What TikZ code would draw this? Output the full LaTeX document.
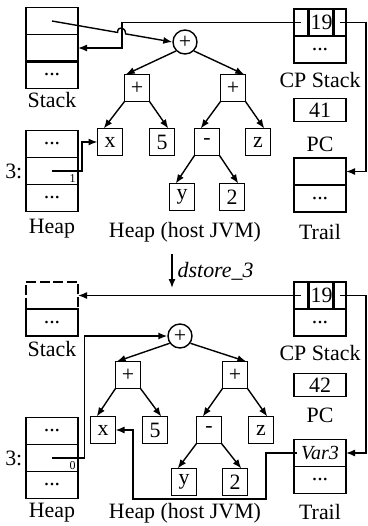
\documentclass[tikz,border=0pt,11pt]{standalone}
\usepackage{fontspec}
\setmainfont{Liberation Serif}
\usetikzlibrary{arrows.meta,positioning,calc}

\begin{document}
\begin{tikzpicture}[x=0.5pt,y=-0.5pt,line width=0.7pt,
    every node/.style={inner sep=1pt},
    cell/.style={draw,minimum width=26pt,minimum height=13.5pt,outer sep=0pt},
    pcbox/.style={cell,minimum height=11.5pt},
    tnode/.style={draw,minimum width=12.5pt,minimum height=13.5pt,outer sep=0pt},
    opnode/.style={draw,circle,minimum size=12pt,inner sep=0pt},
    hlcell/.style={cell,line width=1.3pt,dash pattern=on 5pt off 1.7pt},
    hlline/.style={line width=1.3pt,dash pattern=on 6pt off 1.5pt on 38pt off 1.5pt on 6pt off 1pt},
    ptr/.style={-{Latex[length=4.5pt,width=3.5pt]}},
    lbl/.style={inner sep=0pt},
    idx/.style={font=\tiny,inner sep=0.8pt,anchor=south east}]
  \useasboundingbox (0,0) rectangle (368,526);

  % ---- before dstore_3
  \node[cell] (stka1) at (52,21) {};
  \node[cell,below=0pt of stka1] (stka2) {};
  \node[cell,below=0pt of stka2] (stka3) {...};
  \draw[hlline] (stka2.north west) -- (stka2.south west) -- (stka2.south east) -- (stka2.north east);
  \node[lbl] (stklbla) at (52,100) {Stack};

  \node[cell] (hpa1) at (52,144) {...};
  \node[cell,below=0pt of hpa1] (hpa2) {};
  \node[cell,below=0pt of hpa2] (hpa3) {...};
  \node[lbl,left=1.5pt of hpa2] (hpidxa) {3:};
  \node[idx] (hpbita) at (hpa2.south east) {1};
  \node[lbl] (hplbla) at (52,229) {Heap};

  \node[opnode] (rta) at (185,42) {+};
  \node[tnode] (pla) at (137,88) {+};
  \node[tnode] (pra) at (233,88) {+};
  \node[tnode] (xa) at (110,142) {x};
  \node[tnode] (fva) at (162,142) {5};
  \node[tnode] (mia) at (207,142) {-};
  \node[tnode] (za) at (258,142) {z};
  \node[tnode] (ya) at (182,197) {y};
  \node[tnode] (twa) at (232,197) {2};
  \node[lbl] (jvmlbla) at (185,232) {Heap (host JVM)};

  \draw[ptr] (rta.225) -- (pla.130);
  \draw[ptr] (rta.-45) -- (pra.50);
  \draw[ptr] (pla.south west) -- (xa.115);
  \draw[ptr] (pla.south east) -- (fva.65);
  \draw[ptr] (pra.south west) -- (mia.115);
  \draw[ptr] (pra.south east) -- (za.65);
  \draw[ptr] (mia.south west) -- (ya.115);
  \draw[ptr] (mia.south east) -- (twa.65);

  \node[tnode,minimum width=7pt] (cpla) at (301,22.5) {};
  \node[tnode,minimum width=12.5pt,inner sep=0pt] (cpma) at (321.5,22.5) {19};
  \node[tnode,minimum width=6.5pt] (cpra) at (339.5,22.5) {};
  \node[cell] (cpa2) at (320,49.5) {...};
  \node[lbl] (cplbla) at (320,80) {CP Stack};
  \node[pcbox] (pca) at (320,110) {41};
  \node[lbl] (pclbla) at (320,144) {PC};
  \node[cell] (tra1) at (320,171.5) {};
  \node[cell,below=0pt of tra1] (tra2) {...};
  \node[lbl] (trlbla) at (320,232) {Trail};

  \coordinate (rgt) at (366,0);
  \coordinate (jta) at ($(stka2.east)+(44,0)$);
  \coordinate (hopa) at ($(stka1.center)!0.545!(rta.west)$);
  \coordinate (hopb) at ($(stka1.center)!0.612!(rta.west)$);
  \coordinate (jha) at ($(xa.west)+(-15.5,0)$);
  \draw[ptr] (cpla.center) -| (jta) -- (stka2.east);
  \draw[ptr] (stka1.center) -- (hopa) .. controls +(0,-7) and +(0,-7) .. (hopb) -- (rta.west);
  \draw[ptr] (cpra.center) -- (cpra.center -| rgt) |- (tra1.east);
  \draw[ptr] (hpa2.center) -| (jha) -- (xa.west);

  % ---- the instruction
  \coordinate (dsa) at (172,254);
  \coordinate (dsb) at (172,288);
  \draw[ptr] (dsa) -- (dsb) node[midway,right=1.5pt,font=\itshape] (dslbl) {dstore\_3};

  % ---- after dstore_3
  \node[hlcell] (stkb1) at (52,295.5) {};
  \node[cell,below=0pt of stkb1] (stkb2) {...};
  \node[lbl] (stklblb) at (52,349) {Stack};

  \node[cell] (hpb1) at (52,431) {...};
  \node[cell,below=0pt of hpb1] (hpb2) {};
  \node[cell,below=0pt of hpb2] (hpb3) {...};
  \node[lbl,left=1.5pt of hpb2] (hpidxb) {3:};
  \node[idx] (hpbitb) at (hpb2.south east) {0};
  \node[lbl] (hplblb) at (52,513) {Heap};

  \node[opnode] (rtb) at (180,336) {+};
  \node[tnode] (plb) at (128,375) {+};
  \node[tnode] (prb) at (235,375) {+};
  \node[tnode] (xb) at (103,430) {x};
  \node[tnode] (fvb) at (155,430) {5};
  \node[tnode] (mib) at (209,430) {-};
  \node[tnode] (zb) at (261,430) {z};
  \node[tnode] (yb) at (184,482) {y};
  \node[tnode] (twb) at (235,482) {2};
  \node[lbl] (jvmlblb) at (185,513) {Heap (host JVM)};

  \draw[ptr] (rtb.215) -- (plb.130);
  \draw[ptr] (rtb.-35) -- (prb.50);
  \draw[ptr] (plb.south west) -- (xb.115);
  \draw[ptr] (plb.south east) -- (fvb.65);
  \draw[ptr] (prb.south west) -- (mib.115);
  \draw[ptr] (prb.south east) -- (zb.65);
  \draw[ptr] (mib.south west) -- (yb.115);
  \draw[ptr] (mib.south east) -- (twb.65);

  \node[tnode,minimum width=7pt] (cplb) at (301,295.5) {};
  \node[tnode,minimum width=12.5pt,inner sep=0pt] (cpmb) at (321.5,295.5) {19};
  \node[tnode,minimum width=6.5pt] (cprb) at (339.5,295.5) {};
  \node[cell] (cpb2) at (320,322.5) {...};
  \node[lbl] (cplblb) at (320,353) {CP Stack};
  \node[pcbox] (pcb) at (320,385) {42};
  \node[lbl] (pclblb) at (320,415) {PC};
  \node[cell,font=\small\itshape] (trb1) at (320,453) {Var3};
  \node[cell,below=0pt of trb1] (trb2) {...};
  \node[lbl] (trlblb) at (320,512) {Trail};

  \coordinate (jhb) at ($(rtb.west)+(-83,0)$);
  \coordinate (vja) at (266,499);
  \coordinate (vjb) at ($(xb.east)+(17.5,0)$);
  \draw[ptr] (cplb.center) -- (stkb1.east);
  \draw[ptr] (cprb.center) -- (cprb.center -| rgt) |- (trb1.east);
  \draw[ptr] (hpb2.center) -| (jhb) -- (rtb.west);
  \draw[ptr] ($(trb1.west)+(3,0)$) -| (vja) -| (vjb) -- (xb.east);
\end{tikzpicture}
\end{document}
